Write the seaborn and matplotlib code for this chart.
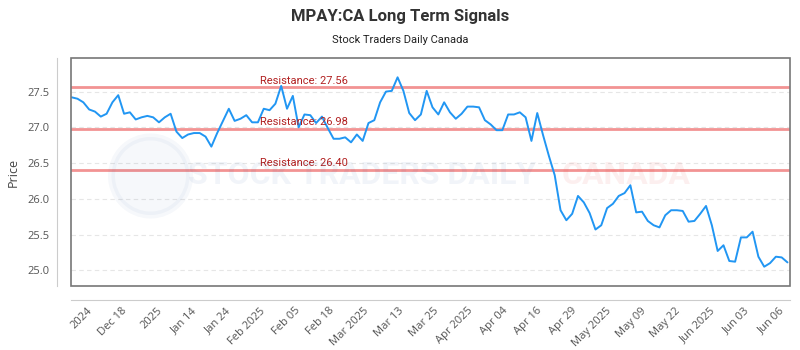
import numpy as np
import pandas as pd
import matplotlib
matplotlib.use("Agg")
import matplotlib.pyplot as plt
from matplotlib.patches import Rectangle, Ellipse
import seaborn as sns

# closing prices (one per trading session)
prices = [
    27.42, 27.40, 27.35, 27.25, 27.22, 27.15, 27.19, 27.35, 27.45, 27.19,
    27.21, 27.11, 27.14, 27.16, 27.14, 27.07, 27.14, 27.19, 26.94, 26.85,
    26.90, 26.92, 26.92, 26.87, 26.73, 26.92, 27.09, 27.26, 27.09, 27.12,
    27.17, 27.07, 27.07, 27.26, 27.24, 27.33, 27.58, 27.26, 27.44, 27.00,
    27.18, 27.17, 27.06, 27.15, 26.99, 26.84, 26.84, 26.86, 26.79, 26.90,
    26.81, 27.06, 27.10, 27.35, 27.50, 27.51, 27.70, 27.51, 27.20, 27.10,
    27.18, 27.51, 27.28, 27.18, 27.35, 27.21, 27.12, 27.19, 27.29, 27.29,
    27.28, 27.10, 27.04, 26.96, 26.96, 27.18, 27.18, 27.21, 27.14, 26.81,
    27.20, 26.89, 26.60, 26.33, 25.84, 25.70, 25.79, 26.04, 25.95, 25.80,
    25.57, 25.63, 25.87, 25.93, 26.04, 26.08, 26.19, 25.81, 25.82, 25.69,
    25.63, 25.60, 25.77, 25.84, 25.84, 25.83, 25.68, 25.69, 25.79, 25.90,
    25.63, 25.27, 25.35, 25.13, 25.12, 25.46, 25.46, 25.54, 25.19, 25.05,
    25.10, 25.19, 25.18, 25.11,
]

resistance_levels = [27.56, 26.98, 26.40]

tick_labels = ['2024', 'Dec 18', '2025', 'Jan 14', 'Jan 24', 'Feb 2025', 'Feb 05',
               'Feb 18', 'Mar 2025', 'Mar 13', 'Mar 25', 'Apr 2025', 'Apr 04',
               'Apr 16', 'Apr 29', 'May 2025', 'May 09', 'May 22', 'Jun 2025',
               'Jun 03', 'Jun 06']

df = pd.DataFrame({'session': np.arange(len(prices)), 'price': prices})

sns.set_style('white')
plt.rcParams['font.family'] = ['Open Sans', 'DejaVu Sans']

fig = plt.figure(figsize=(8, 3.5), dpi=100)
ax = fig.add_axes([70.7 / 800, 1 - 286 / 350, (790 - 70.7) / 800, (286 - 58) / 350])

# offset axis lines first (set_position resets the ticks)
for side in ['top', 'right']:
    ax.spines[side].set_visible(False)
ax.spines['left'].set_position(('outward', 10))
ax.spines['bottom'].set_position(('outward', 10))
ax.spines['left'].set_color('#cccccc')
ax.spines['bottom'].set_color('#cccccc')

# faint watermark
fig.text(362 / 800, 1 - 175 / 350, 'STOCK TRADERS DAILY', fontsize=23, fontweight='bold',
         family='Roboto', color='#1f4e9a', alpha=0.06, ha='center', va='center')
fig.text(626 / 800, 1 - 175 / 350, 'CANADA', fontsize=23, fontweight='bold',
         family='Roboto', color='#e53935', alpha=0.08, ha='center', va='center')
fig.patches.append(Ellipse((150.5 / 800, 1 - 176 / 350), 78 / 800, 78 / 350,
                           transform=fig.transFigure, facecolor='#1f4e9a',
                           edgecolor='#1f4e9a', alpha=0.04, lw=5))

for y in [25.0, 25.5, 26.0, 26.5, 27.0, 27.5]:
    ax.axhline(y, color='#e6e6e6', lw=0.8, ls=(0, (4, 3)), zorder=0)

for lvl in resistance_levels:
    ax.axhline(lvl, color='#f08080', lw=2, alpha=0.85, zorder=1)
    ax.text(32.3, lvl + 0.025, f'Resistance: {lvl:.2f}', color='#b22222',
            fontsize=8, family='Roboto', ha='left', va='bottom', zorder=3)

sns.lineplot(data=df, x='session', y='price', ax=ax, color='#2196f3', lw=1.4, zorder=2)

ax.set_xlim(-0.17, len(prices) - 1 + 0.43)
ax.set_ylim(24.78, 27.97)
ax.set_yticks([25.0, 25.5, 26.0, 26.5, 27.0, 27.5])
ax.set_yticklabels(['25.0', '25.5', '26.0', '26.5', '27.0', '27.5'])
ax.set_xticks(np.linspace(4.0, 122.8, len(tick_labels)))
ax.set_xticklabels(tick_labels, rotation=45, ha='right')
ax.tick_params(axis='both', length=0, labelsize=8, labelcolor='#555555')
ax.tick_params(axis='y', pad=5)
ax.tick_params(axis='x', pad=4)
ax.set_xlabel('')
ax.set_ylabel('Price', fontsize=9, color='#444444', labelpad=6)

ax.add_patch(Rectangle((0, 0), 1, 1, transform=ax.transAxes, fill=False,
                       edgecolor='#777777', lw=1.2, clip_on=False, zorder=4))

fig.text(0.5, 1 - 16 / 350, 'MPAY:CA Long Term Signals', ha='center', va='center',
         fontsize=12, fontweight='bold', family='Roboto', color='#333333')
fig.text(0.5, 1 - 40 / 350, 'Stock Traders Daily Canada', ha='center', va='center',
         fontsize=8, family='Roboto', color='#222222')

fig.savefig('out.png', dpi=100)
